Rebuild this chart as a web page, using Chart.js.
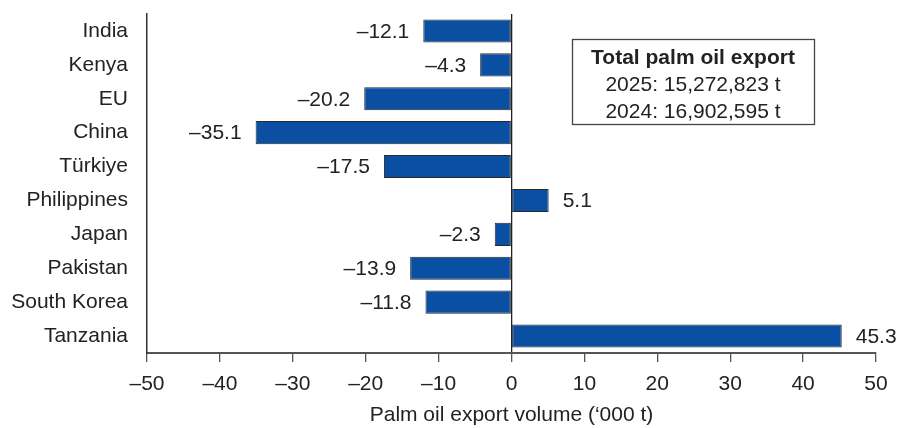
<!DOCTYPE html>
<html>
<head>
<meta charset="utf-8">
<script src="https://cdn.jsdelivr.net/npm/chart.js@4.4.0/dist/chart.umd.min.js"></script>
<style>
  html, body { margin: 0; padding: 0; background: #fff; }
  #wrap { width: 899px; height: 428px; }
</style>
</head>
<body>
<div id="wrap"><canvas id="chart" width="899" height="428"></canvas></div>
<script>
// data
const countries = ['India', 'Kenya', 'EU', 'China', 'Türkiye', 'Philippines', 'Japan', 'Pakistan', 'South Korea', 'Tanzania'];
const changes = [-12.1, -4.3, -20.2, -35.1, -17.5, 5.1, -2.3, -13.9, -11.8, 45.3];
const boxTitle = 'Total palm oil export';
const boxLines = ['2025: 15,272,823 t', '2024: 16,902,595 t'];
const axisTitle = 'Palm oil export volume (\u2018000 t)';

const FONT = '"Liberation Sans", Arial, sans-serif';
const FS = 21;

// en dash for negatives, like the original
function fmt(v) {
    return v < 0 ? '\u2013' + Math.abs(v) : String(v);
}

// value labels next to bar ends
const barLabels = {
    id: 'barLabels',
    afterDatasetsDraw(chart) {
        const ctx = chart.ctx;
        const meta = chart.getDatasetMeta(0);
        ctx.save();
        ctx.font = FS + 'px ' + FONT;
        ctx.fillStyle = '#222';
        ctx.textBaseline = 'middle';
        meta.data.forEach((bar, i) => {
            const v = changes[i];
            if (v < 0) {
                ctx.textAlign = 'right';
                ctx.fillText('\u2013' + Math.abs(v).toFixed(1), bar.x - 14, bar.y + 1);
            } else {
                ctx.textAlign = 'left';
                ctx.fillText(v.toFixed(1), bar.x + 14, bar.y + 1);
            }
        });
        ctx.restore();
    }
};

// the boxed total in the top right
const totalBox = {
    id: 'totalBox',
    afterDraw(chart) {
        const ctx = chart.ctx;
        const x = chart.scales.x;
        const left = Math.round(x.getPixelForValue(8.3));
        const right = Math.round(x.getPixelForValue(41.5));
        const top = 39, bottom = 124;
        ctx.save();
        ctx.fillStyle = '#fff';
        ctx.fillRect(left, top, right - left, bottom - top);
        ctx.strokeStyle = '#444';
        ctx.lineWidth = 1.3;
        ctx.strokeRect(left + 0.5, top + 0.5, right - left, bottom - top);
        ctx.fillStyle = '#222';
        ctx.textAlign = 'center';
        ctx.textBaseline = 'middle';
        const cx = (left + right) / 2;
        ctx.font = 'bold ' + FS + 'px ' + FONT;
        ctx.fillText(boxTitle, cx, 58);
        ctx.font = FS + 'px ' + FONT;
        ctx.fillText(boxLines[0], cx, 85);
        ctx.fillText(boxLines[1], cx, 112);
        ctx.restore();
    }
};

new Chart(document.getElementById('chart'), {
    type: 'bar',
    data: {
        labels: countries,
        datasets: [{
            data: changes,
            backgroundColor: '#0b4fa2',
            borderColor: '#2a2a2a',
            borderWidth: 1,
            borderSkipped: false,
            barPercentage: 0.68,
            categoryPercentage: 1
        }]
    },
    options: {
        indexAxis: 'y',
        responsive: false,
        animation: false,
        layout: { padding: { top: 14, right: 23, bottom: 0, left: 0 } },
        plugins: {
            legend: { display: false },
            tooltip: { enabled: false }
        },
        scales: {
            x: {
                min: -50,
                max: 50,
                ticks: {
                    stepSize: 10,
                    color: '#222',
                    font: { family: FONT, size: FS },
                    padding: 10,
                    callback: v => fmt(v)
                },
                grid: {
                    color: c => (c.tick && c.tick.value === 0) ? '#222' : 'rgba(0,0,0,0)',
                    tickColor: '#555',
                    tickLength: 9,
                    lineWidth: 1.3
                },
                border: { display: true, color: '#555', width: 2 },
                title: {
                    display: true,
                    text: axisTitle,
                    color: '#222',
                    font: { family: FONT, size: FS },
                    padding: { top: 6, bottom: 0 }
                },
                afterFit: s => { s.height = 75; s.paddingLeft = 0; s.paddingRight = 0; }
            },
            y: {
                ticks: {
                    color: '#222',
                    font: { family: FONT, size: FS },
                    padding: 11
                },
                grid: { display: false },
                border: { display: true, color: '#333', width: 1.5 },
                afterFit: s => { s.width = 147; s.paddingTop = 0; s.paddingBottom = 0; }
            }
        }
    },
    plugins: [barLabels, totalBox]
});
</script>
</body>
</html>
